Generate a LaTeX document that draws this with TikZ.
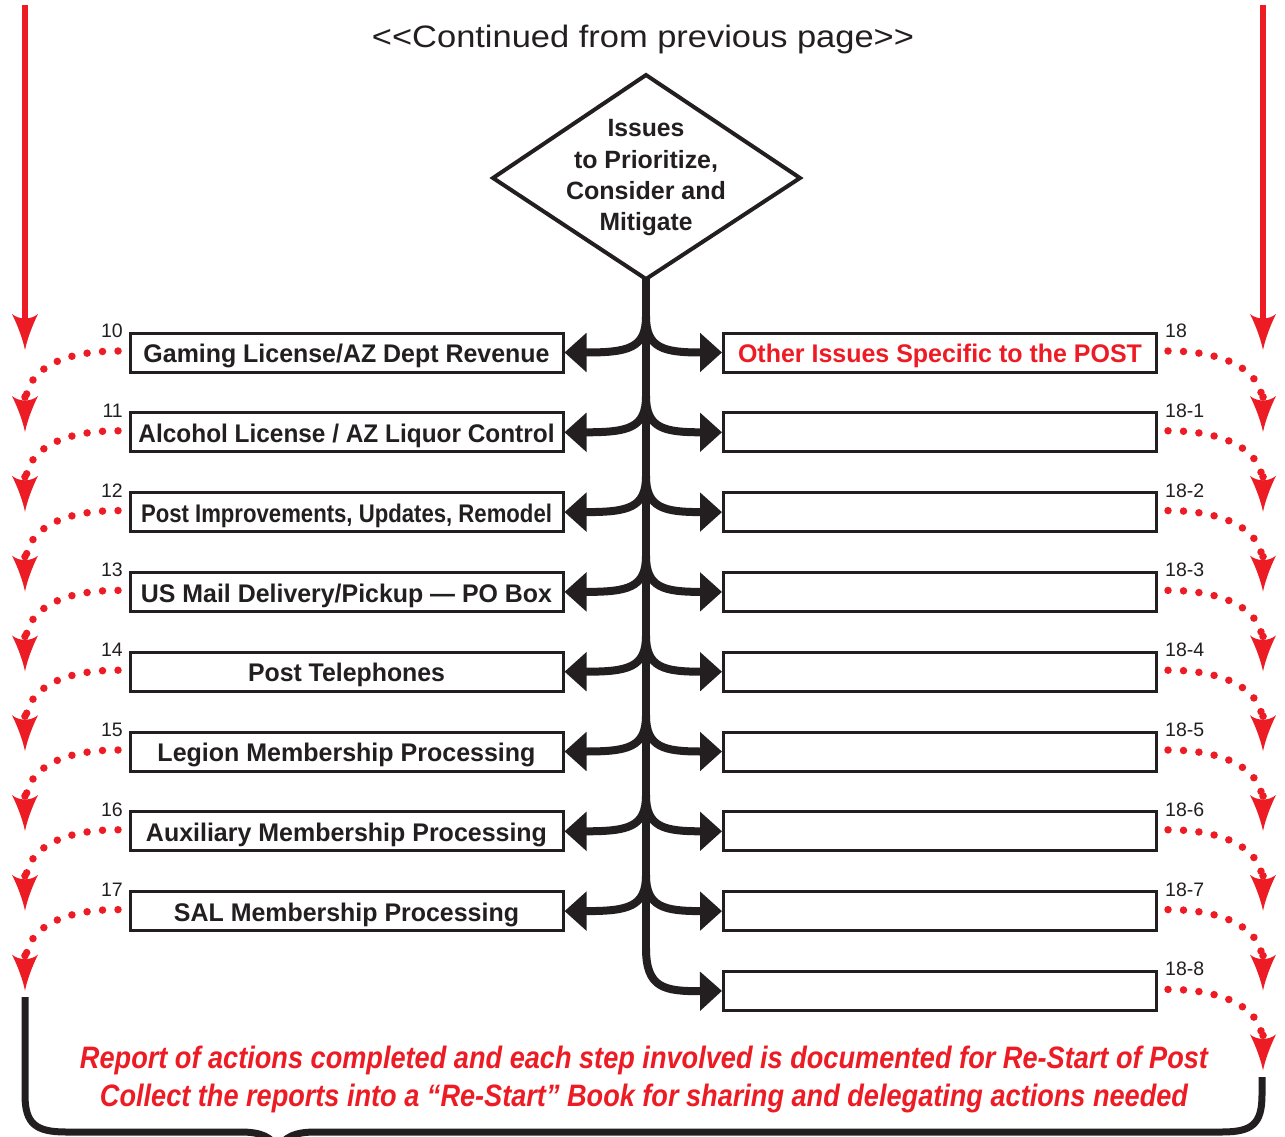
\documentclass[tikz,border=0pt]{standalone}
\usepackage{fontspec}
\setmainfont{Liberation Sans}
\usepackage{graphicx}
\usetikzlibrary{arrows.meta}
\definecolor{ink}{HTML}{231F20}
\definecolor{rd}{HTML}{ED1C24}
\newcommand\fw[2]{\resizebox{#1pt}{\height}{#2}}
\tikzset{
  lbox/.style={draw=ink,line width=3pt,minimum width=433pt,minimum height=39pt,inner sep=0pt,
    text height=20.5pt,text depth=0pt,font=\fontsize{25.5}{28}\selectfont\bfseries,text=ink},
  numl/.style={font=\fontsize{19.5}{22}\selectfont,text=ink,inner sep=0pt,anchor=base east},
  numr/.style={font=\fontsize{19.5}{22}\selectfont,text=ink,inner sep=0pt,anchor=base west},
  branch/.style={draw=ink,line width=8pt,-{Triangle[length=22pt,width=38pt]}},
  reddots/.style={draw=rd,line width=7.5pt,line cap=round,dash pattern=on 0pt off 15.5pt},
  rtip/.pic={\fill[rd] (-13,-36) .. controls (-6,-30) and (6,-30) .. (13,-36)
      .. controls (7,-24) and (2,-10) .. (0,0) .. controls (-2,-10) and (-7,-24) .. (-13,-36) -- cycle;},
  rtipdot/.pic={\fill[rd] (-13,-36) .. controls (-6,-30) and (6,-30) .. (13,-36)
      .. controls (7,-24) and (2,-10) .. (0,0) .. controls (-2,-10) and (-7,-24) .. (-13,-36) -- cycle;
      \fill[rd] (0,-35) circle (3.8pt);},
}
\begin{document}
\begin{tikzpicture}[x=1pt,y=-1pt]
\useasboundingbox[fill=white] (0,0) rectangle (1285,1137);

% top continuation text
\node[font=\fontsize{31}{34}\selectfont,text=ink,inner sep=0pt,anchor=base] (cont) at (643,48)
  {\fw{542}{<{}<Continued from previous page>{}>}};

% red solid arrows at top
\coordinate (tl0) at (25,5);
\coordinate (tl1) at (25,320);
\coordinate (tr0) at (1263,5);
\coordinate (tr1) at (1263,320);
\draw[rd,line width=6pt] (tl0) -- (tl1);
\draw[rd,line width=6pt] (tr0) -- (tr1);
\pic at (25,350) {rtip};
\pic at (1263,350) {rtip};

% diamond
\coordinate (dtop) at (646,75);
\coordinate (dleft) at (493,178);
\coordinate (dright) at (800,178);
\coordinate (dbot) at (646,279);
\draw[ink,line width=4pt,line join=miter] (dtop) -- (dright) -- (dbot) -- (dleft) -- cycle;
\node[font=\fontsize{25}{31.2}\selectfont\bfseries,text=ink,align=center,inner sep=0pt,anchor=north]
  (dtext) at (646,119.5)
  {\fw{77}{Issues}\\ \fw{144}{to Prioritize,}\\ \fw{160}{Consider and}\\ \fw{93}{Mitigate}};

% left boxes
\node[lbox] (L0) at (346.5,352.5) {\fw{406}{Gaming License/AZ Dept Revenue}};
\node[lbox] (L1) at (346.5,432.3) {\fw{416}{Alcohol License / AZ Liquor Control}};
\node[lbox] (L2) at (346.5,512.1) {\fw{411}{Post Improvements, Updates, Remodel}};
\node[lbox] (L3) at (346.5,591.9) {\fw{411}{US Mail Delivery/Pickup — PO Box}};
\node[lbox] (L4) at (346.5,671.7) {\fw{197}{Post Telephones}};
\node[lbox] (L5) at (346.5,751.5) {\fw{378}{Legion Membership Processing}};
\node[lbox] (L6) at (346.5,831.3) {\fw{401}{Auxiliary Membership Processing}};
\node[lbox] (L7) at (346.5,911.1) {\fw{345}{SAL Membership Processing}};

% right boxes
\node[lbox,text=rd] (R0) at (940,352.5) {\fw{404}{Other Issues Specific to the POST}};
\foreach \i in {1,...,8}{
  \pgfmathsetmacro\ry{352.5+79.8*\i}
  \node[lbox] (R\i) at (940,\ry) {};
}

% numbers
\foreach \i/\t in {0/10,1/11,2/12,3/13,4/14,5/15,6/16,7/17}{
  \pgfmathsetmacro\ry{352.5+79.8*\i-15}
  \node[numl] (nl\i) at (123,\ry) {\t};
}
\foreach \i/\t in {0/18,1/18-1,2/18-2,3/18-3,4/18-4,5/18-5,6/18-6,7/18-7,8/18-8}{
  \pgfmathsetmacro\ry{352.5+79.8*\i-15}
  \node[numr] (nr\i) at (1165,\ry) {\t};
}

% trunk
\coordinate (tend) at (646,955);
\draw[ink,line width=8pt] (dbot) -- (tend);
\foreach \i in {0,...,7}{
  \pgfmathsetmacro\ry{352.5+79.8*\i}
  \pgfmathsetmacro\rs{\ry-36}
  \pgfmathsetmacro\rc{\ry-4}
  \coordinate (br\i) at (646,\rs);
  \draw[branch] (br\i) .. controls (646,\rc) and (628,\ry) .. (L\i.east);
  \draw[branch] (br\i) .. controls (646,\rc) and (664,\ry) .. (R\i.west);
}
\coordinate (br8) at (646,948);
\draw[branch] (br8) .. controls (646,988) and (664,991.5) .. (R8.west);

% red dotted connectors, left
\foreach \i in {0,...,7}{
  \pgfmathsetmacro\ry{352.5+79.8*\i}
  \pgfmathsetmacro\ya{\ry-1.5}
  \pgfmathsetmacro\yb{\ry+18}
  \pgfmathsetmacro\yc{\ry+44.5}
  \pgfmathsetmacro\yt{\ry+79.5}
  \coordinate (ls\i) at (118,\ya);
  \coordinate (le\i) at (26,\yc);
  \draw[reddots] (ls\i) .. controls (60,\ya) and (30,\yb) .. (le\i);
  \pic at (25,\yt) {rtipdot};
}
% red dotted connectors, right
\foreach \i in {0,...,8}{
  \pgfmathsetmacro\ry{352.5+79.8*\i}
  \pgfmathsetmacro\ya{\ry-1.5}
  \pgfmathsetmacro\yb{\ry+18}
  \pgfmathsetmacro\yc{\ry+44.5}
  \pgfmathsetmacro\yt{\ry+79.5}
  \coordinate (rs\i) at (1168,\ya);
  \coordinate (re\i) at (1262,\yc);
  \draw[reddots] (rs\i) .. controls (1226,\ya) and (1258,\yb) .. (re\i);
  \pic at (1263,\yt) {rtipdot};
}

% bottom brace
\coordinate (bl) at (25,997);
\coordinate (brr) at (1262,1077);
\draw[ink,line width=7pt] (bl) -- (25,1095) .. controls (25,1124) and (36,1132) .. (66,1132)
  -- (240,1132) .. controls (262,1132) and (272,1137) .. (278,1150)
  .. controls (284,1137) and (294,1132) .. (316,1132)
  -- (1222,1132) .. controls (1252,1132) and (1262,1124) .. (1262,1095) -- (brr);

% bottom red text
\node[font=\fontsize{31}{34}\selectfont\bfseries\itshape,text=rd,inner sep=0pt,anchor=base] (rep1) at (644,1068)
  {\fw{1128}{Report of actions completed and each step involved is documented for Re-Start of Post}};
\node[font=\fontsize{31}{34}\selectfont\bfseries\itshape,text=rd,inner sep=0pt,anchor=base] (rep2) at (644,1106)
  {\fw{1088}{Collect the reports into a “Re-Start” Book for sharing and delegating actions needed}};
\end{tikzpicture}
\end{document}
